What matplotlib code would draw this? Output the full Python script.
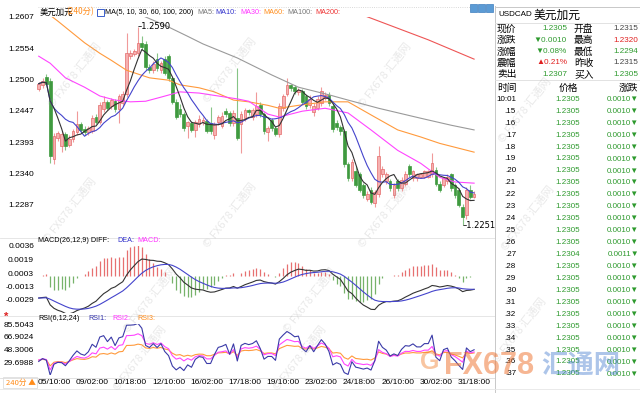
import numpy as np
import pandas as pd
import matplotlib
matplotlib.use("Agg")
import matplotlib.pyplot as plt
from matplotlib.patches import Rectangle

# ---- data (USDCAD, 240 min bars) ----
opens = [1.2484, 1.2490, 1.2505, 1.2498, 1.2365, 1.2400, 1.2386, 1.2407, 1.2388, 1.2398,
         1.2410, 1.2424, 1.2416, 1.2410, 1.2412, 1.2436, 1.2428, 1.2450, 1.2462, 1.2455,
         1.2463, 1.2450, 1.2460, 1.2476, 1.2540, 1.2543, 1.2545, 1.2562, 1.2560, 1.2522,
         1.2517, 1.2536, 1.2517, 1.2536, 1.2540, 1.2502, 1.2462, 1.2450, 1.2441, 1.2421,
         1.2426, 1.2414, 1.2424, 1.2428, 1.2429, 1.2426, 1.2405, 1.2428, 1.2421, 1.2446,
         1.2443, 1.2426, 1.2434, 1.2424, 1.2434, 1.2448, 1.2436, 1.2441, 1.2457, 1.2441,
         1.2410, 1.2431, 1.2417, 1.2407, 1.2452, 1.2476, 1.2490, 1.2488, 1.2479, 1.2481,
         1.2472, 1.2457, 1.2445, 1.2452, 1.2460, 1.2469, 1.2474, 1.2455, 1.2426, 1.2419,
         1.2412, 1.2355, 1.2331, 1.2343, 1.2338, 1.2320, 1.2296, 1.2312, 1.2289, 1.2305,
         1.2339, 1.2326, 1.2326, 1.2303, 1.2326, 1.2314, 1.2322, 1.2352, 1.2331, 1.2331,
         1.2334, 1.2334, 1.2334, 1.2338, 1.2346, 1.2322, 1.2320, 1.2326, 1.2338, 1.2320,
         1.2312, 1.2283, 1.2269, 1.2312, 1.2300]
highs = [1.2496, 1.2502, 1.2509, 1.2503, 1.2409, 1.2412, 1.2412, 1.2410, 1.2405, 1.2416,
         1.2446, 1.2428, 1.2420, 1.2421, 1.2440, 1.2441, 1.2462, 1.2472, 1.2465, 1.2468,
         1.2467, 1.2476, 1.2480, 1.2579, 1.2550, 1.2552, 1.2590, 1.2575, 1.2566, 1.2526,
         1.2531, 1.2545, 1.2532, 1.2540, 1.2543, 1.2505, 1.2466, 1.2458, 1.2445, 1.2430,
         1.2430, 1.2431, 1.2440, 1.2436, 1.2433, 1.2453, 1.2428, 1.2440, 1.2445, 1.2451,
         1.2446, 1.2448, 1.2519, 1.2446, 1.2452, 1.2450, 1.2452, 1.2479, 1.2462, 1.2445,
         1.2420, 1.2434, 1.2420, 1.2460, 1.2476, 1.2502, 1.2493, 1.2491, 1.2486, 1.2484,
         1.2476, 1.2474, 1.2460, 1.2472, 1.2488, 1.2479, 1.2478, 1.2460, 1.2431, 1.2422,
         1.2416, 1.2360, 1.2364, 1.2352, 1.2342, 1.2324, 1.2310, 1.2316, 1.2312, 1.2386,
         1.2352, 1.2342, 1.2330, 1.2324, 1.2330, 1.2333, 1.2343, 1.2356, 1.2346, 1.2341,
         1.2341, 1.2346, 1.2346, 1.2374, 1.2350, 1.2326, 1.2334, 1.2338, 1.2341, 1.2324,
         1.2315, 1.2288, 1.2316, 1.2320, 1.2309]
lows = [1.2481, 1.2486, 1.2490, 1.2357, 1.2355, 1.2395, 1.2377, 1.2379, 1.2384, 1.2393,
        1.2405, 1.2410, 1.2405, 1.2406, 1.2408, 1.2424, 1.2424, 1.2445, 1.2448, 1.2450,
        1.2445, 1.2426, 1.2455, 1.2470, 1.2536, 1.2540, 1.2540, 1.2550, 1.2517, 1.2512,
        1.2512, 1.2514, 1.2512, 1.2508, 1.2498, 1.2458, 1.2432, 1.2436, 1.2412, 1.2400,
        1.2410, 1.2402, 1.2419, 1.2422, 1.2409, 1.2407, 1.2398, 1.2422, 1.2417, 1.2436,
        1.2421, 1.2421, 1.2396, 1.2374, 1.2429, 1.2440, 1.2431, 1.2436, 1.2436, 1.2407,
        1.2395, 1.2412, 1.2403, 1.2402, 1.2446, 1.2472, 1.2481, 1.2476, 1.2474, 1.2458,
        1.2450, 1.2452, 1.2438, 1.2448, 1.2455, 1.2465, 1.2455, 1.2410, 1.2414, 1.2405,
        1.2350, 1.2326, 1.2326, 1.2316, 1.2308, 1.2298, 1.2292, 1.2287, 1.2283, 1.2300,
        1.2334, 1.2322, 1.2310, 1.2298, 1.2310, 1.2310, 1.2318, 1.2334, 1.2327, 1.2327,
        1.2331, 1.2331, 1.2331, 1.2334, 1.2318, 1.2308, 1.2316, 1.2322, 1.2310, 1.2298,
        1.2283, 1.2251, 1.2262, 1.2296, 1.2297]
closes = [1.2493, 1.2498, 1.2493, 1.2369, 1.2403, 1.2409, 1.2407, 1.2386, 1.2398, 1.2412,
          1.2424, 1.2414, 1.2410, 1.2417, 1.2434, 1.2428, 1.2457, 1.2462, 1.2452, 1.2465,
          1.2450, 1.2472, 1.2476, 1.2545, 1.2546, 1.2549, 1.2562, 1.2555, 1.2522, 1.2517,
          1.2527, 1.2519, 1.2528, 1.2512, 1.2502, 1.2462, 1.2436, 1.2441, 1.2417, 1.2427,
          1.2414, 1.2428, 1.2433, 1.2431, 1.2412, 1.2412, 1.2424, 1.2436, 1.2438, 1.2441,
          1.2426, 1.2443, 1.2400, 1.2441, 1.2448, 1.2445, 1.2448, 1.2455, 1.2441, 1.2412,
          1.2417, 1.2417, 1.2407, 1.2455, 1.2472, 1.2490, 1.2486, 1.2481, 1.2483, 1.2462,
          1.2455, 1.2467, 1.2455, 1.2467, 1.2481, 1.2474, 1.2460, 1.2415, 1.2419, 1.2412,
          1.2355, 1.2331, 1.2360, 1.2320, 1.2312, 1.2303, 1.2305, 1.2291, 1.2308, 1.2369,
          1.2348, 1.2338, 1.2314, 1.2320, 1.2314, 1.2329, 1.2339, 1.2338, 1.2343, 1.2338,
          1.2338, 1.2343, 1.2343, 1.2357, 1.2322, 1.2312, 1.2331, 1.2334, 1.2314, 1.2303,
          1.2286, 1.2265, 1.2312, 1.2300, 1.2305]

# long averages read at a few bars (bar index, value)
ma30_idx = [0, 3, 7, 12, 16, 20, 24, 28, 32, 37, 42, 52, 55, 60, 63, 69, 75, 81, 87, 94, 100, 105, 109, 114]
ma30_val = [1.2540, 1.2528, 1.2503, 1.2487, 1.2472, 1.2465, 1.2462, 1.2463, 1.2470, 1.2479, 1.2477, 1.2467,
            1.2463, 1.2441, 1.2436, 1.2446, 1.2451, 1.2443, 1.2414, 1.2379, 1.2357, 1.2333, 1.2325, 1.2323]
ma60_idx = [3, 5, 12, 16, 19, 23, 29, 34, 37, 42, 46, 51, 55, 60, 63, 68, 75, 81, 88, 94, 100, 105, 114]
ma60_val = [1.2610, 1.2600, 1.2563, 1.2545, 1.2533, 1.2516, 1.2503, 1.2499, 1.2491, 1.2486, 1.2479, 1.2465,
            1.2462, 1.2456, 1.2451, 1.2456, 1.2462, 1.2462, 1.2436, 1.2414, 1.2402, 1.2391, 1.2376]
ma100_idx = [24, 28, 33, 39, 43, 52, 61, 68, 76, 81, 89, 100, 108, 114]
ma100_val = [1.2619, 1.2607, 1.2593, 1.2574, 1.2561, 1.2537, 1.2508, 1.2487, 1.2474, 1.2465, 1.2451, 1.2434,
             1.2422, 1.2414]
ma200_idx = [80, 87, 102, 114]
ma200_val = [1.2622, 1.2605, 1.2568, 1.2535]

macd_start = (-0.0027, -0.0027)          # DIFF, DEA on the first bar
ema12_start = 1.2515                     # short EMA level before the first bar (near MA10 start)
rsi_start = {6: 31.0, 12: 33.0, 24: 33.0}  # RSI1..3 on the first bar

tick_idx = [4, 14, 24, 34, 44, 54, 64, 74, 84, 94, 104, 114]
tick_lbl = ["05/10:00", "09/02:00", "10/18:00", "12/10:00", "16/02:00", "17/18:00",
            "19/10:00", "23/02:00", "24/18:00", "26/10:00", "30/02:00", "31/18:00"]
price_ticks = [1.2607, 1.2554, 1.2500, 1.2447, 1.2393, 1.2340, 1.2287]
macd_ticks = [0.0036, 0.0019, 0.0003, -0.0013, -0.0029]
rsi_ticks = [85.5043, 66.9024, 48.3006, 29.6988]

quote_lbl1 = ["现价", "涨跌", "涨幅", "震幅", "卖出"]
quote_val1 = ["1.2305", "▼0.0010", "▼0.08%", "▲0.21%", "1.2307"]
quote_lbl2 = ["开盘", "最高", "最低", "昨收", "买入"]
quote_val2 = ["1.2315", "1.2320", "1.2294", "1.2315", "1.2305"]
tick_times = ["10:01"] + [".%d" % m for m in range(15, 38)]
tick_prices = ["1.2304" if t == ".27" else "1.2305" for t in tick_times]
tick_chg = ["0.0011▼" if t == ".27" else "0.0010▼" for t in tick_times]

# ---- indicators ----
c = pd.Series(closes)
ma5 = c.rolling(5, min_periods=1).mean()
ma10 = c.rolling(10, min_periods=1).mean()

diff = np.zeros(len(closes)); dea = np.zeros(len(closes))
ef = ema12_start; es = ema12_start - macd_start[0]
diff[0], dea[0] = macd_start
for i in range(1, len(closes)):
    ef += 2 / 13 * (closes[i] - ef)
    es += 2 / 27 * (closes[i] - es)
    diff[i] = ef - es
    dea[i] = dea[i - 1] + 2 / 10 * (diff[i] - dea[i - 1])
hist = 2 * (diff - dea)

d = np.diff(closes)
avg_abs0 = np.mean(np.abs(d))
rsi = {}
for n, r0 in rsi_start.items():
    up, ab = r0 / 100 * avg_abs0, avg_abs0
    vals = [r0]
    for x in d:
        up = (max(x, 0) + (n - 1) * up) / n
        ab = (abs(x) + (n - 1) * ab) / n
        vals.append(up / ab * 100)
    rsi[n] = vals

# ---- figure ----
W, H = 640, 400
fig = plt.figure(figsize=(6.4, 4.0), dpi=100)
fig.patch.set_facecolor("white")
CJK = ["Noto Sans CJK SC", "DejaVu Sans"]
LAT = ["Liberation Sans", "DejaVu Sans"]

def ptxt(x, y, s, **kw):
    kw.setdefault("fontsize", 6)
    kw.setdefault("family", CJK)
    kw.setdefault("va", "center")
    return fig.text(x / W, 1 - y / H, s, **kw)

def pline(x0, x1, y0, y1, **kw):
    fig.add_artist(plt.Line2D([x0 / W, x1 / W], [1 - y0 / H, 1 - y1 / H], **kw))

L, R = 36.8, 476.0
def add_ax(top, bottom):
    a = fig.add_axes([L / W, 1 - bottom / H, (R - L) / W, (bottom - top) / H])
    a.set_xlim(-0.5, len(closes) - 0.5)
    for s in a.spines.values():
        s.set_visible(False)
    a.tick_params(length=0, labelsize=6, pad=2)
    a.set_xticks([])
    return a

ax = add_ax(17, 235.4)
axm = add_ax(245.7, 313.2)
axr = add_ax(324.3, 375.0)

idx = np.arange(len(closes))
o = np.array(opens); cl = np.array(closes); hi = np.array(highs); lo = np.array(lows)
up = cl >= o
UP_F, UP_E, DN = "#f6b0b0", "#e46a6a", "#3f9a3f"
ax.vlines(idx[up], lo[up], hi[up], color="#f09a9a", lw=0.8, zorder=2)
ax.vlines(idx[~up], lo[~up], hi[~up], color="#86c486", lw=0.8, zorder=2)
body = np.maximum(np.abs(cl - o), 0.00004)
ax.bar(idx[up], body[up], bottom=o[up], width=0.72, color=UP_F, edgecolor=UP_E, lw=0.5, zorder=3)
ax.bar(idx[~up], body[~up], bottom=cl[~up], width=0.72, color=DN, edgecolor=DN, lw=0.5, zorder=3)

ax.plot(ma200_idx, ma200_val, color="#ee5555", lw=0.8, zorder=4)
ax.plot(ma100_idx, ma100_val, color="#9a9a9a", lw=0.8, zorder=4)
ax.plot(ma60_idx, ma60_val, color="#ff9a3c", lw=0.8, zorder=4)
ax.plot(ma30_idx, ma30_val, color="#ff44ff", lw=0.8, zorder=4)
ax.plot(idx, ma10, color="#4444cc", lw=0.8, zorder=5)
ax.plot(idx, ma5, color="#333333", lw=0.8, zorder=5)

ax.set_ylim(1.22337, 1.2607)
ax.set_yticks(price_ticks, ["%.4f" % v for v in price_ticks])
ih, il = int(np.argmax(hi)), int(np.argmin(lo))
ax.text(ih, hi[ih], "\u2013%.4f" % hi[ih], fontsize=6, va="center", ha="left", clip_on=False, zorder=6)
ax.text(il, lo[il], "\u2013%.4f" % lo[il], fontsize=6, va="center", ha="left", clip_on=False, zorder=6)

# MACD
axm.vlines(idx[hist >= 0], 0, hist[hist >= 0], color="#e77070", lw=0.9)
axm.vlines(idx[hist < 0], 0, hist[hist < 0], color="#77b36a", lw=0.9)
axm.plot(idx, diff, color="#333333", lw=0.8)
axm.plot(idx, dea, color="#4444cc", lw=0.8)
axm.set_ylim(-0.004525, 0.0036)
axm.set_yticks(macd_ticks, ["%.4f" % v for v in macd_ticks])

# RSI
axr.plot(idx, rsi[24], color="#ff9a3c", lw=0.8)
axr.plot(idx, rsi[12], color="#ff44ff", lw=0.8)
axr.plot(idx, rsi[6], color="#3a3aa8", lw=0.8)
axr.set_ylim(11.0966, 85.5043)
axr.set_yticks(rsi_ticks, ["%.4f" % v for v in rsi_ticks])
axr.set_xticks(tick_idx, tick_lbl)
axr.tick_params(axis="x", pad=3)
for a in (ax, axm, axr):
    for t in a.get_yticklabels():
        t.set_family(LAT)
for t in axr.get_xticklabels():
    t.set_family(LAT)

# frame lines
pline(38, 470, 7, 7, color="#cccccc", lw=0.6, ls=":")
for yy in (238, 316):
    pline(0, 495, yy, yy, color="#e2e2e2", lw=0.6)
pline(0, 495, 378, 378, color="#dddddd", lw=0.6)
pline(495, 495, 6, 392, color="#c8c8c8", lw=0.7)
pline(495, 640, 6.5, 6.5, color="#c8c8c8", lw=0.7)
pline(495, 640, 23, 23, color="#dddddd", lw=0.6)
pline(495, 640, 80, 80, color="#dddddd", lw=0.6)
pline(0, 640, 389, 389, color="#e6e6e6", lw=0.6)

# header of main chart
ptxt(40, 12, "美元加元", color="black", fontsize=6)
ptxt(66, 12, "(240分)", color="#ff8c1a", fontsize=6)
fig.add_artist(Rectangle((97 / W, 1 - 16 / H), 7 / W, 7 / H, transform=fig.transFigure,
                         facecolor="white", edgecolor="#3a5fcd", lw=0.7))
ptxt(105, 12, "MA(5, 10, 30, 60, 100, 200)", family=LAT, fontsize=5.2)
for x, s, col in [(197, "MA5:", "#777777"), (215, "MA10:", "#3333cc"), (240, "MA30:", "#ff33ff"),
                  (263, "MA60:", "#ff8c1a"), (287, "MA100:", "#777777"), (315, "MA200:", "#ee3333")]:
    ptxt(x, 12, s, color=col, family=LAT, fontsize=5.2)
for k in range(3):
    fig.add_artist(Rectangle(((470 + 8 * k) / W, 1 - 12 / H), 6.5 / W, 8 / H, transform=fig.transFigure,
                             facecolor="#5b9bd5", edgecolor="#3f7fbf", lw=0.5))

ptxt(38, 240.5, "MACD(26,12,9) DIFF:", family=LAT, fontsize=5.2)
ptxt(117, 240.5, "DEA:", color="#3333cc", family=LAT, fontsize=5.2)
ptxt(137, 240.5, "MACD:", color="#ff33ff", family=LAT, fontsize=5.2)
ptxt(38, 318, "RSI(6,12,24)", family=LAT, fontsize=5.2)
ptxt(88, 318, "RSI1:", color="#3333aa", family=LAT, fontsize=5.2)
ptxt(112, 318, "RSI2:", color="#ff33ff", family=LAT, fontsize=5.2)
ptxt(137, 318, "RSI3:", color="#ff8c1a", family=LAT, fontsize=5.2)
ptxt(4, 317, "*", color="#dd2222", fontsize=8, family=LAT, fontweight="bold")

fig.add_artist(Rectangle((3 / W, 1 - 388 / H), 34 / W, 11 / H, transform=fig.transFigure,
                         facecolor="white", edgecolor="#dddddd", lw=0.6))
ptxt(6, 382.5, "240分 ▲", color="#ff8c1a", fontsize=5.5)

# quote panel
ptxt(498, 15, "USDCAD", family=LAT, fontsize=5.8)
ptxt(534, 15, "美元加元", fontsize=8.5)
GREEN, RED, GRAY = "#2e9a2e", "#e02020", "#444444"
col1 = [GREEN, GREEN, GREEN, RED, GREEN]
col2 = [GRAY, RED, GREEN, GRAY, GREEN]
for k in range(5):
    y = 29 + k * 11.25
    ptxt(497, y, quote_lbl1[k], fontsize=7)
    ptxt(567, y, quote_val1[k], color=col1[k], family=LAT, fontsize=5.9, ha="right")
    ptxt(574, y, quote_lbl2[k], fontsize=7)
    ptxt(638, y, quote_val2[k], color=col2[k], family=LAT, fontsize=5.9, ha="right")
ptxt(497, 88, "时间", fontsize=7)
ptxt(568, 88, "价格", fontsize=7, ha="center")
ptxt(638, 88, "涨跌", fontsize=7, ha="right")
for k, t in enumerate(tick_times):
    y = 99.3 + k * 11.94
    ptxt(516, y, t, family=LAT, fontsize=5.8, ha="right")
    ptxt(580, y, tick_prices[k], color=GREEN, family=LAT, fontsize=5.8, ha="right")
    ptxt(639, y, tick_chg[k], color=GREEN, family=LAT, fontsize=5.8, ha="right")

# watermarks
for x, y in [(75, 75), (230, 70), (385, 75), (70, 210), (230, 215), (385, 215),
             (150, 300), (310, 300), (140, 358), (300, 358), (525, 110), (528, 218), (520, 330)]:
    ptxt(x, y, "© FX678 汇通网", color="#999999", alpha=0.22, fontsize=8, rotation=52, ha="center")
ptxt(430, 362, "G", color="#f08030", alpha=0.45, fontsize=18, ha="center", family=LAT, fontweight="bold")
ptxt(444, 366, "FX678", color="#f07a3a", alpha=0.55, fontsize=22, family=LAT, fontweight="bold")
ptxt(541, 366, "汇通网", color="#4a7fd0", alpha=0.45, fontsize=19, fontweight="bold")

fig.savefig("out.png", dpi=100)
